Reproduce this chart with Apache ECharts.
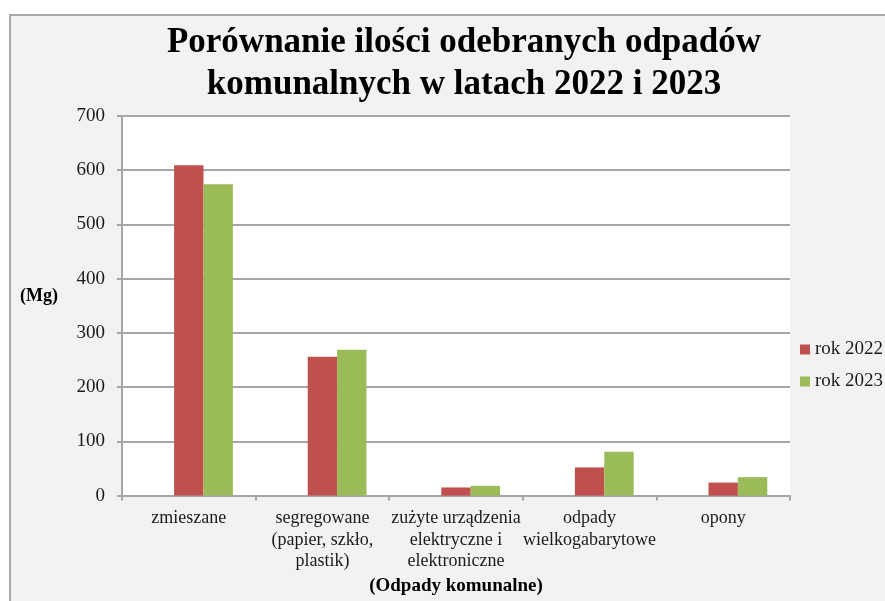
<!DOCTYPE html>
<html>
<head>
<meta charset="utf-8">
<script src="https://cdn.jsdelivr.net/npm/echarts@6/dist/echarts.min.js"></script>
<style>
  html, body { margin: 0; padding: 0; background: #ffffff; }
  #chart { width: 885px; height: 601px; }
</style>
</head>
<body>
<div id="chart"></div>
<script>
const titleText = 'Porównanie ilości odebranych odpadów\nkomunalnych w latach 2022 i 2023';
const categories = [
  'zmieszane',
  'segregowane\n(papier, szkło,\nplastik)',
  'zużyte urządzenia\nelektryczne i\nelektroniczne',
  'odpady\nwielkogabarytowe',
  'opony'
];
const seriesNames = ['rok 2022', 'rok 2023'];
const values2022 = [609, 256, 15, 52, 24];
const values2023 = [574, 269, 18, 81, 34];
const emptySeries = [null, null, null, null, null];
const yTicks = { min: 0, max: 700, interval: 100 };
const yAxisName = '(Mg)';
const xAxisName = '(Odpady komunalne)';

const serif = 'Liberation Serif';
const chart = echarts.init(document.getElementById('chart'), null, { renderer: 'canvas' });

chart.setOption({
  backgroundColor: '#ffffff',
  animation: false,
  graphic: [{
    type: 'rect',
    z: -10,
    shape: { x: 10, y: 15, width: 900, height: 620 },
    style: { fill: '#f2f2f2', stroke: '#a8a8a8', lineWidth: 2 }
  }],
  title: {
    text: titleText,
    left: 464,
    top: 22,
    textAlign: 'center',
    padding: 0,
    textStyle: {
      fontFamily: serif,
      fontWeight: 'bold',
      fontSize: 35,
      lineHeight: 42,
      color: '#000000'
    }
  },
  legend: {
    orient: 'vertical',
    left: 800,
    top: 340,
    padding: 0,
    itemWidth: 10,
    itemHeight: 10,
    itemGap: 13,
    data: seriesNames,
    icon: 'rect',
    textStyle: { fontFamily: serif, fontSize: 19, color: '#1a1a1a' }
  },
  grid: {
    left: 122, top: 116, right: 95, bottom: 105,
    show: true, backgroundColor: '#ffffff', borderWidth: 0,
    containLabel: false
  },
  xAxis: {
    type: 'category',
    data: categories,
    name: xAxisName,
    nameLocation: 'middle',
    nameGap: 77,
    nameTextStyle: {
      fontFamily: serif, fontWeight: 'bold', fontSize: 19, color: '#000000'
    },
    axisLine: { lineStyle: { color: '#a6a6a6', width: 2 } },
    axisTick: { show: true, length: 5, lineStyle: { color: '#a6a6a6', width: 2 } },
    axisLabel: {
      interval: 0,
      margin: 12,
      fontFamily: serif,
      fontSize: 18,
      lineHeight: 21.5,
      color: '#1a1a1a'
    },
    splitLine: { show: false }
  },
  yAxis: {
    type: 'value',
    min: yTicks.min,
    max: yTicks.max,
    interval: yTicks.interval,
    name: yAxisName,
    nameLocation: 'middle',
    nameRotate: 0,
    nameGap: 64,
    nameTextStyle: {
      fontFamily: serif, fontWeight: 'bold', fontSize: 18, color: '#000000',
      verticalAlign: 'bottom'
    },
    axisLine: { show: true, lineStyle: { color: '#a6a6a6', width: 2 } },
    axisTick: { show: true, length: 5, lineStyle: { color: '#a6a6a6', width: 2 } },
    axisLabel: {
      margin: 17,
      fontFamily: serif,
      fontSize: 19,
      color: '#1a1a1a'
    },
    splitLine: { show: true, lineStyle: { color: '#a6a6a6', width: 2 } }
  },
  series: [
    {
      name: '',
      type: 'bar',
      data: emptySeries,
      barGap: '0%',
      barCategoryGap: '34%'
    },
    {
      name: seriesNames[0],
      type: 'bar',
      data: values2022,
      itemStyle: { color: '#c0504d' },
      barGap: '0%',
      barCategoryGap: '34%'
    },
    {
      name: seriesNames[1],
      type: 'bar',
      data: values2023,
      itemStyle: { color: '#9bbb59' },
      barGap: '0%',
      barCategoryGap: '34%'
    }
  ]
});
</script>
</body>
</html>
